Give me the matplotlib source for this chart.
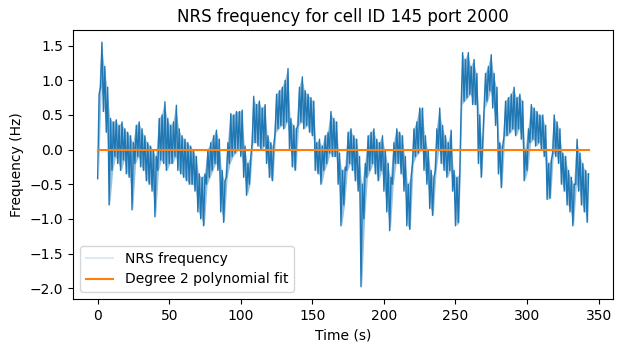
import numpy as np
import matplotlib
matplotlib.use("Agg")
import matplotlib.pyplot as plt
from matplotlib.lines import Line2D

# Envelope readings per 2-second bin (low, high)
freq_low = [
    -0.42, 0.90, 0.55, 0.25, -0.80,
    -0.30, -0.10, -0.20, -0.30, -0.15,
    -0.35, -0.40, -0.87, -0.20, -0.10,
    -0.25, -0.30, -0.45, -0.50, -0.60,
    -0.97, -0.30, -0.15, -0.20, -0.30,
    -0.20, -0.20, -0.10, -0.30, -0.35,
    -0.40, -0.45, -0.50, -0.50, -0.60,
    -0.90, -1.00, -1.10, -0.50, -0.40,
    -0.30, -0.20, -0.30, -0.90, -1.05,
    -0.40, -0.20, -0.10, -0.05, 0.00,
    -0.10, -0.40, -0.66, -0.50, 0.10,
    0.10, 0.05, 0.00, 0.05, -0.20,
    -0.40, -0.45, 0.25, 0.30, 0.35,
    0.30, 0.40, 0.00, -0.25, -0.30,
    0.35, 0.40, 0.30, 0.35, 0.25,
    0.20, -0.30, -0.35, -0.50, -0.30,
    -0.20, -0.05, -0.10, -0.10, -0.50,
    -1.10, -0.80, -0.30, -0.20, -0.30,
    -0.45, -0.60, -1.98, -1.00, -0.40,
    -0.30, -0.20, -0.35, -0.45, -0.30,
    -0.60, -0.90, -1.17, -0.50, -0.20,
    -0.20, -0.35, -0.60, -1.10, -1.15,
    -0.20, -0.10, -0.05, 0.00, -0.30,
    -0.50, -0.85, -0.95, -0.30, 0.00,
    -0.20, -0.30, -0.40, -0.30, -0.60,
    -1.10, -1.05, 0.65, 0.70, 0.75,
    0.80, 0.65, 0.65, -0.20, -0.40,
    0.60, 0.70, 0.85, 0.60, 0.35,
    -0.35, -0.55, 0.20, 0.20, 0.25,
    0.30, 0.20, 0.30, 0.15, -0.45,
    -0.30, 0.10, 0.15, 0.05, 0.10,
    0.00, -0.10, -0.72, -0.70, -0.05,
    -0.10, -0.20, -0.50, -0.60, -0.80,
    -0.90, -1.10, -0.50, -0.60, -0.80,
    -0.90, -1.05,
]
freq_high = [
    0.80, 1.55, 1.20, 0.90, 0.45,
    0.40, 0.43, 0.35, 0.40, 0.30,
    0.25, 0.20, 0.10, 0.35, 0.40,
    0.30, 0.20, 0.10, 0.05, 0.00,
    -0.10, 0.45, 0.50, 0.69, 0.45,
    0.35, 0.40, 0.64, 0.30, 0.20,
    0.15, 0.10, 0.05, 0.00, -0.10,
    -0.35, -0.40, -0.35, 0.00, 0.10,
    0.20, 0.28, 0.15, -0.30, -0.45,
    0.10, 0.52, 0.50, 0.55, 0.55,
    0.57, 0.05, -0.20, -0.10, 0.77,
    0.65, 0.70, 0.60, 0.65, 0.20,
    0.10, 0.05, 0.80, 0.85, 0.90,
    1.00, 1.17, 0.45, 0.35, 0.30,
    0.90, 1.05, 0.85, 0.80, 0.75,
    0.70, 0.10, 0.15, 0.05, 0.20,
    0.25, 0.55, 0.45, 0.40, -0.05,
    -0.30, -0.25, 0.25, 0.30, 0.20,
    0.15, -0.10, -0.50, -0.20, 0.20,
    0.25, 0.30, 0.15, 0.10, 0.20,
    0.00, -0.20, -0.40, 0.10, 0.30,
    0.25, 0.20, -0.10, -0.50, -0.40,
    0.30, 0.40, 0.60, 0.60, 0.20,
    0.00, -0.30, -0.40, 0.30, 0.60,
    0.35, 0.20, 0.10, 0.28, -0.30,
    -0.40, -0.35, 1.40, 1.30, 1.40,
    1.20, 1.30, 1.10, 0.50, 0.10,
    1.10, 1.20, 1.37, 1.10, 0.90,
    0.10, 0.05, 0.70, 0.75, 0.80,
    0.90, 0.75, 0.80, 0.70, 0.00,
    0.30, 0.65, 0.60, 0.55, 0.50,
    0.50, 0.35, -0.20, -0.15, 0.50,
    0.40, 0.30, -0.05, -0.10, -0.30,
    -0.40, -0.50, 0.15, -0.05, -0.20,
    -0.30, -0.35,
]
# Degree 2 polynomial fit coefficients (highest power first)
fit_coeffs = [0.0, 0.0, 0.0]

# Interleave low/high readings into one series sampled each second
freq = np.empty(2 * len(freq_low))
freq[0::2] = freq_low
freq[1::2] = freq_high
time = np.arange(len(freq), dtype=float)
bin_time = time[0::2] + 0.5
fit_vals = np.polyval(fit_coeffs, time)

fig = plt.figure(figsize=(6.25, 3.53), dpi=100)
ax = fig.add_axes([0.117, 0.153, 0.864, 0.762])
ax.fill_between(bin_time, freq_low, freq_high, color="C0", alpha=0.45, lw=0)
ax.plot(time, freq, color="C0", lw=1.0)
ax.plot(time, fit_vals, color="C1", lw=1.5)

ax.set_title("NRS frequency for cell ID 145 port 2000")
ax.set_xlabel("Time (s)")
ax.set_ylabel("Frequency (Hz)")
ax.set_yticks([-2.0, -1.5, -1.0, -0.5, 0.0, 0.5, 1.0, 1.5])

handles = [Line2D([], [], color="C0", alpha=0.15, lw=1.5),
           Line2D([], [], color="C1", lw=1.5)]
ax.legend(handles, ["NRS frequency", "Degree 2 polynomial fit"], loc="lower left")

fig.savefig("out.png", dpi=100)
